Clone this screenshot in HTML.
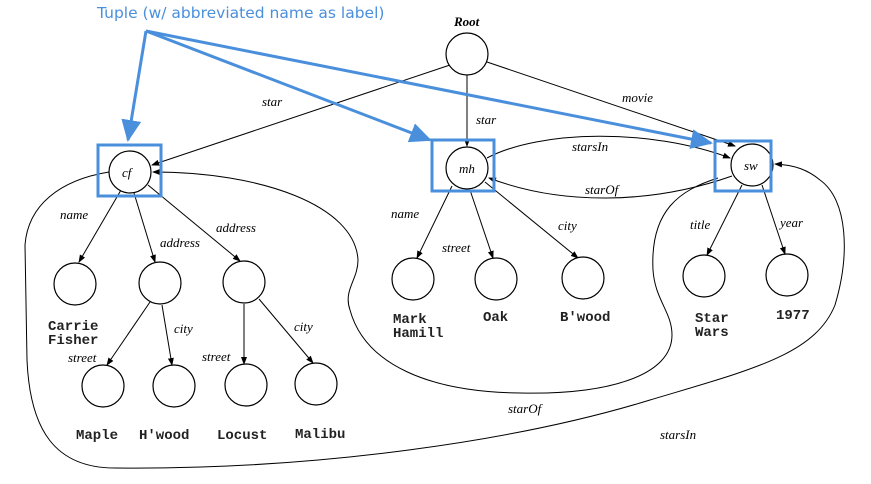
<!DOCTYPE html>
<html><head><meta charset="utf-8"><style>
html,body{margin:0;padding:0;background:#fff;}
svg{display:block;}
.n{fill:#fff;stroke:#000;stroke-width:1.2;}
.e{fill:none;stroke:#000;stroke-width:1;}
.l{font-family:"Liberation Serif",serif;font-style:italic;font-size:13px;fill:#000;}
.v{font-family:"Liberation Mono",monospace;font-size:14px;font-weight:bold;fill:#222;}
.b{fill:none;stroke:#4a8fdc;stroke-width:3;}
</style></head><body>
<svg width="871" height="484" viewBox="0 0 871 484" xmlns="http://www.w3.org/2000/svg">
<defs>
<marker id="a" markerWidth="8" markerHeight="8" refX="7" refY="4" orient="auto" markerUnits="userSpaceOnUse"><path d="M0,1 L8,4 L0,7 z" fill="#000"/></marker>
<marker id="ba" markerWidth="22" markerHeight="20" refX="20" refY="10" orient="auto" markerUnits="userSpaceOnUse"><path d="M0,0 L22,10 L0,20 z" fill="#4a8fdc"/></marker>
</defs>

<!-- root edges -->
<line class="e" x1="450" y1="65" x2="152" y2="165" marker-end="url(#a)"/>
<line class="e" x1="467" y1="75" x2="467" y2="146" marker-end="url(#a)"/>
<line class="e" x1="487" y1="62" x2="735" y2="146" marker-end="url(#a)"/>
<text class="l" x="262" y="106">star</text>
<text class="l" x="476" y="124">star</text>
<text class="l" x="622" y="102">movie</text>

<!-- mh<->sw -->
<path class="e" d="M487,158 C540,130 650,128 730,158" marker-end="url(#a)"/>
<path class="e" d="M732,176 C650,205 560,205 489,178" marker-end="url(#a)"/>
<text class="l" x="572" y="151">starsIn</text>
<text class="l" x="585" y="194">starOf</text>

<!-- big curves -->
<path class="e" d="M718,178 C680,190 650,210 653,270 C655,300 672,312 672,335 C672,375 610,395 520,393 C430,392 365,365 350,310 C343,290 358,280 358,260 C355,205 260,172 153,172" marker-end="url(#a)"/>
<path class="e" d="M109,172 C60,180 28,205 25,245 L27,360 C30,430 55,468 115,468 C320,470 520,440 650,400 C750,370 815,355 835,305 C850,255 848,200 820,180 C808,170 795,165 775,164" marker-end="url(#a)"/>
<text class="l" x="508" y="413">starOf</text>
<text class="l" x="660" y="439">starsIn</text>

<!-- cf subtree -->
<line class="e" x1="121" y1="190" x2="79" y2="262" marker-end="url(#a)"/>
<line class="e" x1="134" y1="193" x2="155" y2="262" marker-end="url(#a)"/>
<line class="e" x1="148" y1="185" x2="240" y2="261" marker-end="url(#a)"/>
<line class="e" x1="150" y1="302" x2="107" y2="365" marker-end="url(#a)"/>
<line class="e" x1="162" y1="305" x2="172" y2="365" marker-end="url(#a)"/>
<line class="e" x1="244" y1="304" x2="244" y2="364" marker-end="url(#a)"/>
<line class="e" x1="259" y1="299" x2="313" y2="363" marker-end="url(#a)"/>
<text class="l" x="60" y="219">name</text>
<text class="l" x="160" y="247">address</text>
<text class="l" x="216" y="232">address</text>
<text class="l" x="68" y="362">street</text>
<text class="l" x="174" y="333">city</text>
<text class="l" x="202" y="361">street</text>
<text class="l" x="294" y="331">city</text>

<!-- mh subtree -->
<line class="e" x1="452" y1="186" x2="417" y2="258" marker-end="url(#a)"/>
<line class="e" x1="470" y1="190" x2="493" y2="258" marker-end="url(#a)"/>
<line class="e" x1="485" y1="182" x2="578" y2="258" marker-end="url(#a)"/>
<text class="l" x="391" y="218">name</text>
<text class="l" x="442" y="252">street</text>
<text class="l" x="558" y="230">city</text>

<!-- sw subtree -->
<line class="e" x1="742" y1="185" x2="707" y2="255" marker-end="url(#a)"/>
<line class="e" x1="762" y1="185" x2="785" y2="254" marker-end="url(#a)"/>
<text class="l" x="690" y="229">title</text>
<text class="l" x="780" y="227">year</text>

<!-- nodes -->
<circle class="n" cx="467" cy="54" r="21"/>
<circle class="n" cx="130" cy="172" r="21"/>
<circle class="n" cx="467" cy="168" r="21"/>
<circle class="n" cx="752" cy="165" r="21"/>
<circle class="n" cx="75" cy="284" r="21"/>
<circle class="n" cx="160" cy="283" r="21"/>
<circle class="n" cx="244" cy="282" r="21"/>
<circle class="n" cx="103" cy="386" r="21"/>
<circle class="n" cx="174" cy="386" r="21"/>
<circle class="n" cx="246" cy="385" r="21"/>
<circle class="n" cx="316" cy="384" r="21"/>
<circle class="n" cx="413" cy="279" r="21"/>
<circle class="n" cx="496" cy="279" r="21"/>
<circle class="n" cx="583" cy="278" r="21"/>
<circle class="n" cx="704" cy="276" r="21"/>
<circle class="n" cx="787" cy="275" r="21"/>

<text class="l" x="454" y="26" font-weight="bold">Root</text>
<text class="l" x="122" y="177">cf</text>
<text class="l" x="459" y="173">mh</text>
<text class="l" x="744" y="170">sw</text>

<text class="v" x="48" y="330">Carrie</text>
<text class="v" x="48" y="344">Fisher</text>
<text class="v" x="76" y="439">Maple</text>
<text class="v" x="139" y="439">H'wood</text>
<text class="v" x="217" y="439">Locust</text>
<text class="v" x="295" y="438">Malibu</text>
<text class="v" x="393" y="323">Mark</text>
<text class="v" x="393" y="337">Hamill</text>
<text class="v" x="483" y="321">Oak</text>
<text class="v" x="560" y="321">B'wood</text>
<text class="v" x="695" y="322">Star</text>
<text class="v" x="695" y="336">Wars</text>
<text class="v" x="776" y="319">1977</text>

<!-- blue annotations -->
<rect class="b" x="98" y="145" width="63" height="51"/>
<rect class="b" x="432" y="140" width="62" height="51"/>
<rect class="b" x="715" y="141" width="56" height="50"/>
<text x="97" y="18" font-family="'DejaVu Sans','Liberation Sans',sans-serif" font-size="15.5" fill="#4a8fdc">Tuple (w/ abbreviated name as label)</text>
<line class="b" x1="146" y1="31" x2="128" y2="140" marker-end="url(#ba)"/>
<line class="b" x1="146" y1="31" x2="430" y2="140" marker-end="url(#ba)"/>
<line class="b" x1="146" y1="31" x2="711" y2="143" marker-end="url(#ba)"/>
</svg>
</body></html>
